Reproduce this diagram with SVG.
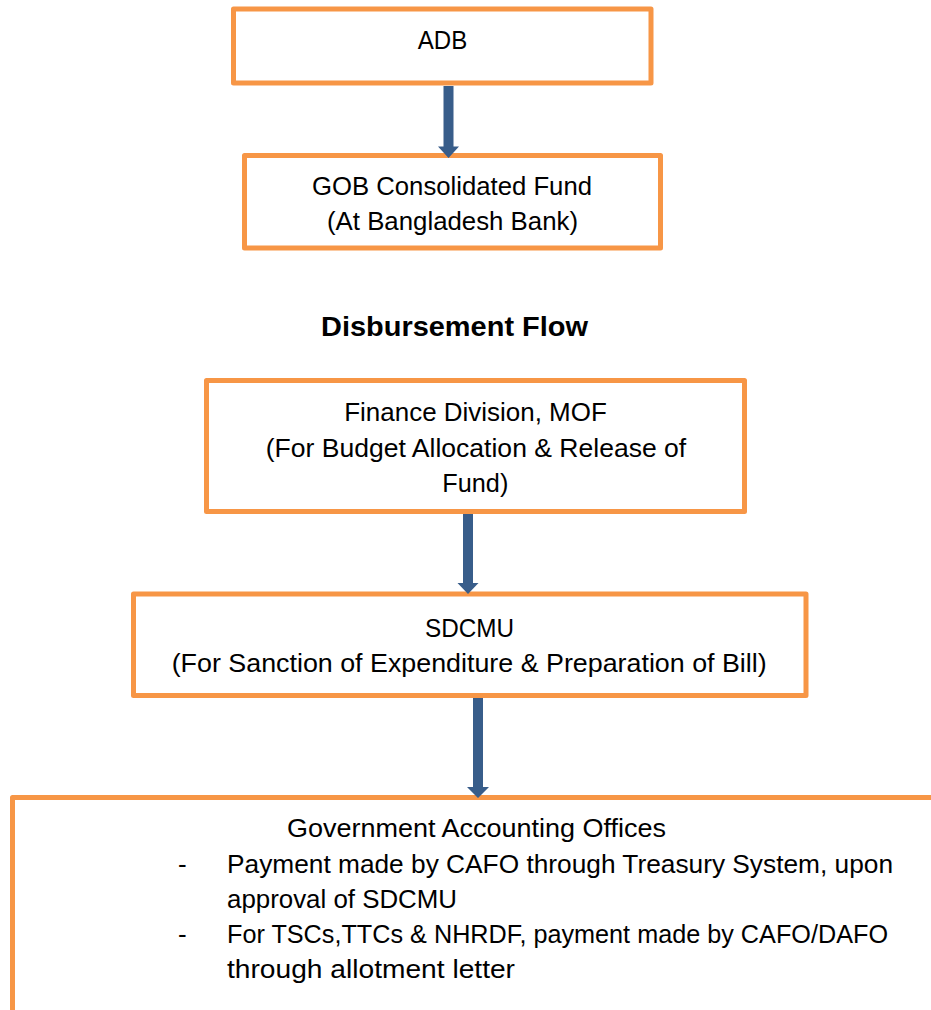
<svg xmlns="http://www.w3.org/2000/svg" width="931" height="1010" viewBox="0 0 931 1010">
  <style>
    .box { fill: #FFFFFF; stroke: #F79646; stroke-width: 5; stroke-linejoin: round; }
    .lbl { font-family: "Liberation Sans", Arial, sans-serif; font-size: 26px; fill: #000000; }
    .mid { text-anchor: middle; }
    .title { font-family: "Liberation Sans", Arial, sans-serif; font-size: 28.5px; font-weight: bold; fill: #000000; text-anchor: middle; }
    .flow { fill: #385D8A; }
  </style>

  <rect width="931" height="1010" fill="#FFFFFF"/>

  <!-- Source of funds -->
  <g id="node-adb">
    <rect class="box" x="233.5" y="9" width="417.5" height="74"/>
    <text class="lbl mid" x="442.5" y="49" textLength="49.5" lengthAdjust="spacingAndGlyphs">ADB</text>
  </g>

  <g id="node-gob-fund">
    <rect class="box" x="244.5" y="155.5" width="416" height="92.5"/>
    <text class="lbl mid" x="452" y="195" textLength="280" lengthAdjust="spacingAndGlyphs">GOB Consolidated Fund</text>
    <text class="lbl mid" x="452.5" y="230" textLength="251" lengthAdjust="spacingAndGlyphs">(At Bangladesh Bank)</text>
  </g>

  <g id="heading">
    <text class="title" x="454.5" y="336" textLength="267" lengthAdjust="spacingAndGlyphs">Disbursement Flow</text>
  </g>

  <g id="node-finance-division">
    <rect class="box" x="206.5" y="380.5" width="538" height="131"/>
    <text class="lbl mid" x="475.5" y="421" textLength="262.5" lengthAdjust="spacingAndGlyphs">Finance Division, MOF</text>
    <text class="lbl mid" x="476" y="457" textLength="420.5" lengthAdjust="spacingAndGlyphs">(For Budget Allocation &amp; Release of</text>
    <text class="lbl mid" x="475.3" y="492" textLength="66" lengthAdjust="spacingAndGlyphs">Fund)</text>
  </g>

  <g id="node-sdcmu">
    <rect class="box" x="133.5" y="594" width="672.5" height="101.5"/>
    <text class="lbl mid" x="469.5" y="637" textLength="89" lengthAdjust="spacingAndGlyphs">SDCMU</text>
    <text class="lbl mid" x="469.2" y="672" textLength="595" lengthAdjust="spacingAndGlyphs">(For Sanction of Expenditure &amp; Preparation of Bill)</text>
  </g>

  <!-- Open-ended panel: runs past the right and bottom edges -->
  <g id="node-accounting-offices">
    <rect class="box" x="12.5" y="797.5" width="940" height="240"/>
    <text class="lbl" x="287" y="837" textLength="379" lengthAdjust="spacingAndGlyphs">Government Accounting Offices</text>
    <text class="lbl" x="178" y="873">-</text>
    <text class="lbl" x="227" y="873" textLength="666" lengthAdjust="spacingAndGlyphs">Payment made by CAFO through Treasury System, upon</text>
    <text class="lbl" x="227" y="908" textLength="230" lengthAdjust="spacingAndGlyphs">approval of SDCMU</text>
    <text class="lbl" x="178" y="943">-</text>
    <text class="lbl" x="227" y="943" textLength="661" lengthAdjust="spacingAndGlyphs">For TSCs,TTCs &amp; NHRDF, payment made by CAFO/DAFO</text>
    <text class="lbl" x="227" y="978" textLength="288" lengthAdjust="spacingAndGlyphs">through allotment letter</text>
  </g>

  <!-- Block arrows between the stages -->
  <g id="connectors">
    <polygon class="flow" points="443.5,86 453.5,86 453.5,146.5 459,146.5 448.5,158 438,146.5 443.5,146.5"/>
    <polygon class="flow" points="463,514 473,514 473,583 478.5,583 468,594 457.5,583 463,583"/>
    <polygon class="flow" points="473,698 483,698 483,787 489,787 478,798 467,787 473,787"/>
  </g>
</svg>
